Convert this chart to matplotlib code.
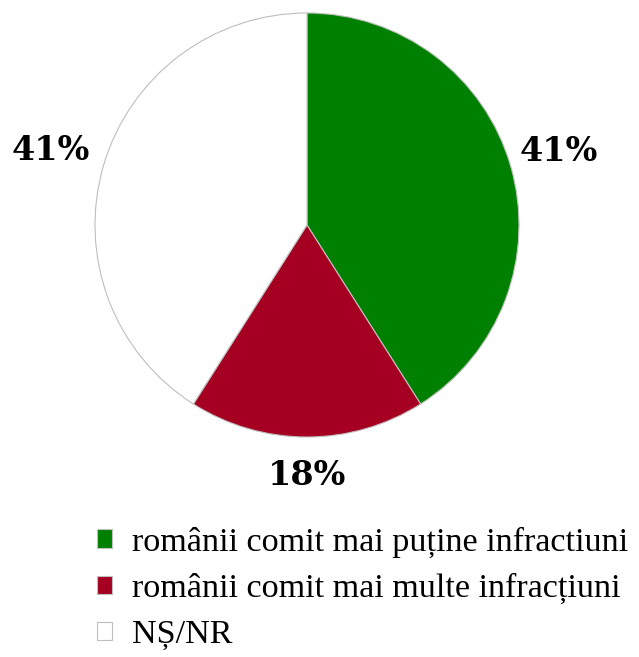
import numpy as np
import matplotlib
matplotlib.use("Agg")
import matplotlib.pyplot as plt
from matplotlib.patches import Patch

categories = ["românii comit mai puține infractiuni",
              "românii comit mai multe infracțiuni",
              "NȘ/NR"]
values = [41, 18, 41]
colors = ["#008000", "#A50021", "#FFFFFF"]
labels = ["41%", "18%", "41%"]

W, H = 639, 657
fig = plt.figure(figsize=(W/100, H/100), dpi=100)

# pie axes placed in pixels: center (307,225), radius 212
cx, cy, r = 307, 225, 212
ax = fig.add_axes([(cx-r)/W, (H-cy-r)/H, 2*r/W, 2*r/H])
wedges, _ = ax.pie(values, colors=colors, startangle=90, counterclock=False,
                   radius=1, wedgeprops=dict(edgecolor="#BFBFBF", linewidth=0.8))
ax.set_xlim(-1, 1)
ax.set_ylim(-1, 1)
ax.set_aspect("equal")
ax.axis("off")

dists = [1.235, 1.18, 1.26]
for w, lab, d in zip(wedges, labels, dists):
    th = np.deg2rad((w.theta1 + w.theta2) / 2)
    ax.text(d*np.cos(th), d*np.sin(th), lab, ha="center", va="center",
            fontsize=24, fontweight="bold", family="DejaVu Serif", clip_on=False)

handles = [Patch(facecolor=c, edgecolor="#BFBFBF", linewidth=0.8) for c in colors]
fig.legend(handles, categories, loc="upper left",
           bbox_to_anchor=(83/W, 1-513/H), frameon=False,
           prop={"family": "Liberation Serif", "size": 24.6},
           handlelength=0.46, handleheight=0.46, handletextpad=0.58,
           labelspacing=0.45, borderaxespad=0)

fig.savefig("out.png", dpi=100)
